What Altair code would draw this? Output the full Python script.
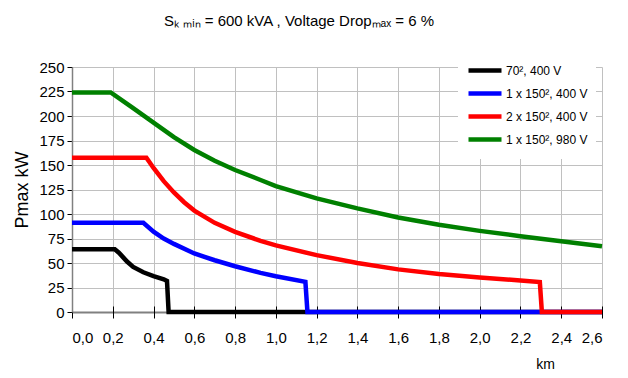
import altair as alt
import pandas as pd

# ---- data ----
series = ["70², 400 V", "1 x 150², 400 V", "2 x 150², 400 V", "1 x 150², 980 V"]
colors = ["#000000", "#0000ff", "#ff0000", "#008000"]
widths = [4.5, 4.5, 5, 3]

black_x = [0.0, 0.21, 0.23, 0.25, 0.27, 0.30, 0.35, 0.40, 0.45, 0.466, 0.474, 2.6]
black_y = [64, 64, 60.5, 56, 51.5, 46, 40.5, 36.6, 33.4, 31.7, 0, 0]

blue_x = [0.0, 0.35, 0.40, 0.45, 0.50, 0.60, 0.70, 0.80, 0.925, 1.0, 1.145, 1.155, 2.6]
blue_y = [91, 91, 82, 75, 69.5, 59.7, 52.8, 46.7, 39.9, 36.5, 30.7, 0, 0]

red_x = [0.0, 0.365, 0.40, 0.45, 0.50, 0.55, 0.60, 0.70, 0.80, 0.925, 1.0, 1.2, 1.4, 1.6, 1.8, 2.0, 2.2, 2.295, 2.305, 2.6]
red_y = [157.5, 157.5, 147, 133.5, 122, 112, 103.5, 91, 81.8, 72.6, 68, 58, 50, 43.5, 38.8, 35.2, 32.1, 30.5, 0, 0]

green_x = [0.0, 0.19, 0.30, 0.40, 0.50, 0.60, 0.70, 0.80, 0.925, 1.0, 1.2, 1.4, 1.6, 1.8, 2.0, 2.2, 2.4, 2.6]
green_y = [224, 224, 208, 193.3, 178.5, 165.3, 154.4, 144.9, 134.7, 128.5, 115.9, 105.7, 96.5, 89, 82.8, 77.4, 72.3, 67.2]

x_ticks = [0.0, 0.2, 0.4, 0.6, 0.8, 1.0, 1.2, 1.4, 1.6, 1.8, 2.0, 2.2, 2.4, 2.6]
y_ticks = [0, 25, 50, 75, 100, 125, 150, 175, 200, 225, 250]

title_text = "Sₖ ₘᵢₙ = 600 kVA , Voltage Dropₘₐₓ = 6 %"

rows = []
for name, xs, ys in zip(series, [black_x, blue_x, red_x, green_x], [black_y, blue_y, red_y, green_y]):
    for i, (x, y) in enumerate(zip(xs, ys)):
        rows.append({"series": name, "km": x, "p": y, "i": i})
df = pd.DataFrame(rows)

FONT = "Liberation Sans"

xscale = alt.Scale(domain=[0, 2.6], nice=False, zero=False)
yscale = alt.Scale(domain=[0, 250], nice=False)

chart = alt.Chart(df).mark_line(strokeJoin="miter").encode(
    x=alt.X("km:Q", scale=xscale,
            axis=alt.Axis(values=x_ticks, title="km",
                          labelExpr="replace(format(datum.value, '.1f'), '.', ',')",
                          domain=False, offset=-6, tickSize=12, tickColor="#000000",
                          labelPadding=12, labelFontSize=15, labelFont=FONT, labelOverlap=False,
                          titleFont=FONT, titleFontSize=14, titleFontWeight="normal",
                          titleX=473, titleY=58, titleBaseline="middle",
                          grid=True)),
    y=alt.Y("p:Q", scale=yscale,
            axis=alt.Axis(values=y_ticks, title="Pmax kW", tickSize=5, tickColor="#000000",
                          domainColor="#808080", domainWidth=1.5,
                          gridColor={"condition": {"test": "datum.value === 0", "value": "#808080"},
                                     "value": "#c0c0c0"},
                          gridWidth={"condition": {"test": "datum.value === 0", "value": 2},
                                     "value": 1},
                          labelPadding=3, labelFontSize=15, labelFont=FONT, labelOverlap=False,
                          titleFont=FONT, titleFontSize=18, titleFontWeight="normal",
                          titlePadding=7, grid=True)),
    color=alt.Color("series:N", scale=alt.Scale(domain=series, range=colors), title=None),
    strokeWidth=alt.StrokeWidth("series:N", scale=alt.Scale(domain=series, range=widths), title=None),
    order=alt.Order("i:Q"),
).properties(
    width=530, height=245,
    autosize=alt.AutoSizeParams(type="none"),
    padding={"left": 64, "top": 59, "right": 18, "bottom": 58},
    title=alt.TitleParams(text=title_text, anchor="start", frame="group", dx=92,
                          font=FONT, fontSize=15, fontWeight="normal", color="#000000",
                          baseline="alphabetic", offset=10),
).configure_view(stroke=None).configure_axis(
    gridColor="#c0c0c0", gridWidth=1, labelColor="#000000", titleColor="#000000",
).configure_legend(
    orient="none", legendX=386, legendY=-16, fillColor="#ffffff", padding=8,
    symbolType="stroke", symbolSize=1089, clipHeight=23, rowPadding=0,
    labelFont=FONT, labelFontSize=12, labelColor="#000000", labelOffset=2,
)

chart.save("out.html", embed_options={"renderer": "svg", "actions": False})
